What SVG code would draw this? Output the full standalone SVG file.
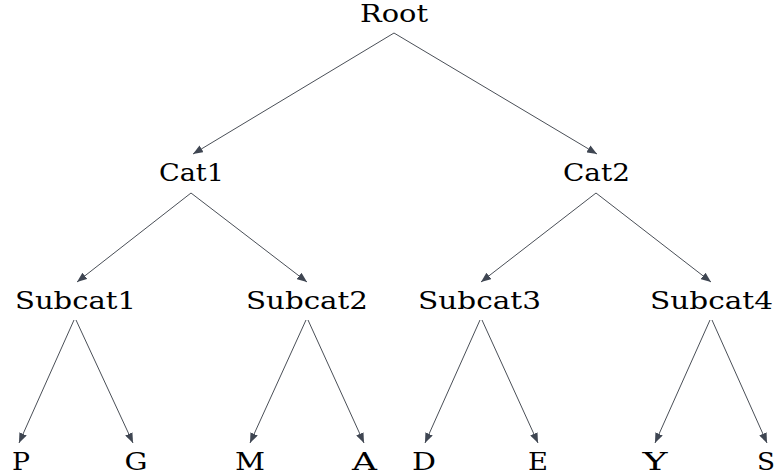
<svg xmlns="http://www.w3.org/2000/svg" width="776" height="476" viewBox="0 0 776 476">
  <defs>
    <marker id="arrow" viewBox="0 0 10 8" refX="10" refY="4" markerWidth="10" markerHeight="8" markerUnits="userSpaceOnUse" orient="auto">
      <path d="M0,0 L10,4 L0,8 z" fill="#3f4652"/>
    </marker>
    <style>
      .lbl { font-family: "DejaVu Serif", serif; font-size: 24px; fill: #000; text-anchor: middle; }
      .edge { stroke: #4a4f57; stroke-width: 1; fill: none; marker-end: url(#arrow); }
    </style>
  </defs>
  <rect width="776" height="476" fill="#fff"/>

  <g id="connectors">
    <line class="edge" x1="394" y1="33" x2="193" y2="154"/>
    <line class="edge" x1="394" y1="33" x2="597" y2="154"/>
    <line class="edge" x1="191" y1="193" x2="77" y2="282"/>
    <line class="edge" x1="191" y1="193" x2="307" y2="282"/>
    <line class="edge" x1="596" y1="193" x2="481" y2="282"/>
    <line class="edge" x1="596" y1="193" x2="711" y2="282"/>
    <line class="edge" x1="74" y1="320" x2="19" y2="443"/>
    <line class="edge" x1="76" y1="320" x2="133" y2="443"/>
    <line class="edge" x1="306" y1="320" x2="250" y2="443"/>
    <line class="edge" x1="308" y1="320" x2="364" y2="443"/>
    <line class="edge" x1="480" y1="320" x2="425" y2="443"/>
    <line class="edge" x1="482" y1="320" x2="538" y2="443"/>
    <line class="edge" x1="710" y1="320" x2="655" y2="443"/>
    <line class="edge" x1="712" y1="320" x2="767" y2="443"/>
  </g>

  <g id="root"><text class="lbl" x="394" y="22" textLength="68" lengthAdjust="spacingAndGlyphs">Root</text></g>
  <g id="cat1"><text class="lbl" x="191.5" y="181" textLength="65" lengthAdjust="spacingAndGlyphs">Cat1</text></g>
  <g id="cat2"><text class="lbl" x="596.5" y="181" textLength="67" lengthAdjust="spacingAndGlyphs">Cat2</text></g>
  <g id="subcat1"><text class="lbl" x="75.5" y="309" textLength="121" lengthAdjust="spacingAndGlyphs">Subcat1</text></g>
  <g id="subcat2"><text class="lbl" x="307" y="309" textLength="122" lengthAdjust="spacingAndGlyphs">Subcat2</text></g>
  <g id="subcat3"><text class="lbl" x="479.5" y="309" textLength="123" lengthAdjust="spacingAndGlyphs">Subcat3</text></g>
  <g id="subcat4"><text class="lbl" x="711.5" y="309" textLength="123" lengthAdjust="spacingAndGlyphs">Subcat4</text></g>
  <g id="leaf-p"><text class="lbl" x="21" y="470" textLength="18" lengthAdjust="spacingAndGlyphs">P</text></g>
  <g id="leaf-g"><text class="lbl" x="136" y="470" textLength="23" lengthAdjust="spacingAndGlyphs">G</text></g>
  <g id="leaf-m"><text class="lbl" x="250" y="470" textLength="30" lengthAdjust="spacingAndGlyphs">M</text></g>
  <g id="leaf-a"><text class="lbl" x="364.5" y="470" textLength="25" lengthAdjust="spacingAndGlyphs">A</text></g>
  <g id="leaf-d"><text class="lbl" x="424" y="470" textLength="24" lengthAdjust="spacingAndGlyphs">D</text></g>
  <g id="leaf-e"><text class="lbl" x="538" y="470" textLength="20" lengthAdjust="spacingAndGlyphs">E</text></g>
  <g id="leaf-y"><text class="lbl" x="655" y="470" textLength="25" lengthAdjust="spacingAndGlyphs">Y</text></g>
  <g id="leaf-s"><text class="lbl" x="766" y="470" textLength="18" lengthAdjust="spacingAndGlyphs">S</text></g>
</svg>
